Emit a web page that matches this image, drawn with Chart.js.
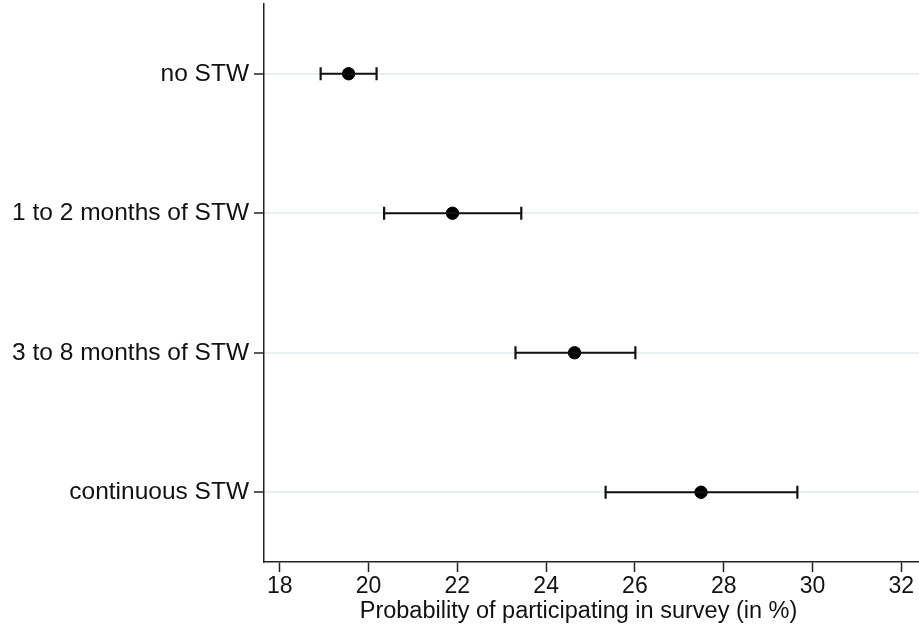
<!DOCTYPE html>
<html>
<head>
<meta charset="utf-8">
<script src="https://cdn.jsdelivr.net/npm/chart.js@4.4.1/dist/chart.umd.min.js"></script>
<style>
html,body{margin:0;padding:0;background:#fff;overflow:hidden;}
#wrap{width:919px;height:631px;position:relative;}
#wrap canvas{display:block;}
</style>
</head>
<body>
<div id="wrap"><canvas id="c"></canvas></div>
<script>
const categories = ["no STW", "1 to 2 months of STW", "3 to 8 months of STW", "continuous STW"];
const estimates  = [19.55, 21.89, 24.64, 27.49];
const lowerCI    = [18.92, 20.35, 23.31, 25.34];
const upperCI    = [20.18, 23.44, 26.01, 29.66];
const xTicks     = [18, 20, 22, 24, 26, 28, 30, 32];
const xTitle     = "Probability of participating in survey (in %)";

const X_MIN = 17.644, X_MAX = 32.40;
const FONT = "'Liberation Sans', Arial, Helvetica, sans-serif";

const datasets = [];
categories.forEach((c, i) => {
  datasets.push({
    type: 'line',
    label: 'ci ' + c,
    data: [{x: lowerCI[i], y: i + 1}, {x: upperCI[i], y: i + 1}],
    borderColor: '#111',
    borderWidth: 2.2,
    pointStyle: 'line',
    pointRotation: 90,
    pointRadius: 6.5,
    pointBorderWidth: 2.2,
    pointBorderColor: '#111',
    pointHoverRadius: 6.5,
    fill: false
  });
});
datasets.push({
  type: 'scatter',
  label: 'estimate',
  data: estimates.map((v, i) => ({x: v, y: i + 1})),
  backgroundColor: '#000',
  borderColor: '#000',
  pointRadius: 6.2,
  pointBorderWidth: 1,
  pointHoverRadius: 6.2
});

// plot region fills the canvas to the right edge and starts 4px from the top
const plotRegion = {
  id: 'plotRegion',
  afterLayout(chart) {
    const a = chart.chartArea, x = chart.scales.x, y = chart.scales.y;
    const right = chart.width, top = 4;
    a.right = right; a.top = top;
    a.width = a.right - a.left; a.height = a.bottom - a.top;
    x.right = right; x.width = right - x.left; x.configure(); x._labelItems = null;
    y.top = top; y.height = y.bottom - top; y.configure(); y._labelItems = null;
  }
};

// draws the x-axis title (text only), centred as in the reference
const xTitlePlugin = {
  id: 'xTitlePlugin',
  afterDraw(chart) {
    const ctx = chart.ctx, a = chart.chartArea;
    ctx.save();
    ctx.fillStyle = '#111';
    ctx.font = "23.5px " + FONT;
    ctx.textAlign = 'center';
    ctx.textBaseline = 'middle';
    ctx.fillText(xTitle, (a.left + a.right) / 2 - 13, chart.height - 19);
    ctx.restore();
  }
};

new Chart(document.getElementById('c'), {
  type: 'scatter',
  data: { datasets },
  plugins: [plotRegion, xTitlePlugin],
  options: {
    responsive: true,
    maintainAspectRatio: false,
    animation: false,
    layout: { padding: { top: 4, right: 0, left: 0, bottom: 0 } },
    plugins: { legend: { display: false }, tooltip: { enabled: false } },
    scales: {
      x: {
        type: 'linear',
        min: X_MIN,
        max: X_MAX,
        afterBuildTicks: s => { s.ticks = xTicks.map(v => ({ value: v })); },
        afterFit: s => { s.height = 69; },
        grid: { drawOnChartArea: false, drawTicks: true, tickLength: 10, tickWidth: 1.5, tickColor: '#222' },
        border: { display: true, color: '#222', width: 1.5 },
        ticks: { color: '#111', font: { family: FONT, size: 23 }, padding: 1, maxRotation: 0, autoSkip: false }
      },
      y: {
        type: 'linear',
        reverse: true,
        min: 0.5,
        max: 4.5,
        afterBuildTicks: s => { s.ticks = categories.map((c, i) => ({ value: i + 1 })); },
        afterFit: s => { s.width = 264; },
        grid: { drawOnChartArea: true, lineWidth: 2, drawTicks: true, tickLength: 10, tickWidth: 1.5, color: '#e8eff2', tickColor: '#222' },
        border: { display: true, color: '#222', width: 1.5 },
        ticks: { color: '#111', font: { family: FONT, size: 24.5 }, padding: 5, autoSkip: false,
                 callback: v => categories[Math.round(v) - 1] }
      }
    }
  }
});
</script>
</body>
</html>
